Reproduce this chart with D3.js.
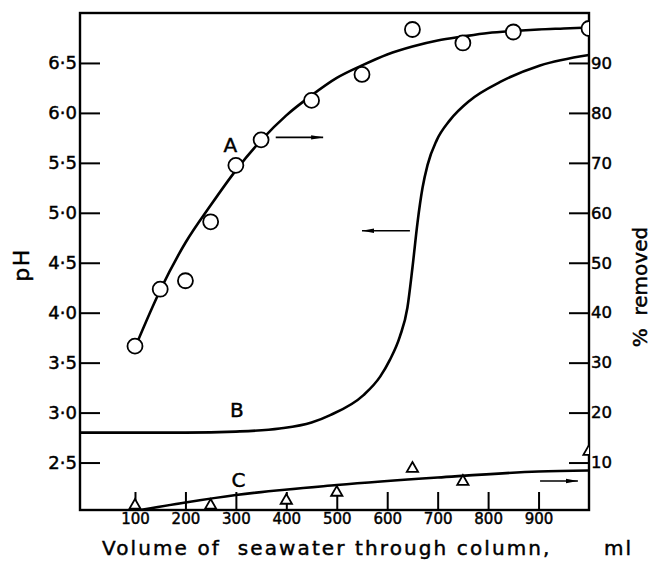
<!DOCTYPE html>
<html>
<head>
<meta charset="utf-8">
<script src="https://cdn.jsdelivr.net/npm/d3@7"></script>
<style>
  body { margin: 0; background: #fff; }
  svg { display: block; font-family: "DejaVu Sans", sans-serif; }
  svg text { stroke: #000; stroke-width: 0.45px; }
</style>
</head>
<body>
<svg id="chart" width="651" height="562"></svg>
<script>
// A: % removed (right axis), smooth line and observed circles
const volA = [100, 150, 200, 250, 300, 350, 400, 450, 500, 550, 600, 650, 700, 750, 800, 850, 900, 950, 1000];
const pctA = [33, 44.5, 54, 61.5, 68.5, 74.5, 79.5, 83.5, 87, 89.5, 91.7, 93.3, 94.5, 95.3, 96, 96.4, 96.7, 96.9, 97.1];
const volAObs = [100, 150, 200, 250, 300, 350, 450, 550, 650, 750, 850, 1000];
const pctAObs = [33.3, 44.7, 46.4, 58.2, 69.5, 74.6, 82.5, 87.7, 96.7, 94, 96.2, 96.9];

// B: pH of effluent (left axis)
const volB = [-9, 100, 200, 300, 387, 450, 487, 553, 586, 605, 625, 640, 650, 660, 670, 680, 698, 724, 764, 824, 903, 1000];
const phB = [2.8, 2.8, 2.8, 2.81, 2.84, 2.9, 2.975, 3.175, 3.36, 3.525, 3.76, 4.05, 4.45, 4.9, 5.25, 5.48, 5.725, 5.925, 6.125, 6.31, 6.475, 6.58];

// C: % removed (right axis), line and observed triangles
const volC = [100, 200, 300, 500, 700, 900, 1000];
const pctC = [0.3, 2.0, 3.5, 5.5, 7.0, 8.2, 8.4];
const volCObs = [100, 250, 400, 500, 650, 750, 1000];
const pctCObs = [1.4, 1.4, 2.4, 4, 8.8, 6.2, 12.2];

const volTicks = [100, 200, 300, 400, 500, 600, 700, 800, 900];
const phTicks = [2.5, 3.0, 3.5, 4.0, 4.5, 5.0, 5.5, 6.0, 6.5];
const pctTicks = [10, 20, 30, 40, 50, 60, 70, 80, 90];

const svg = d3.select("#chart");
const m = { left: 80, right: 589, top: 13, bottom: 510 };

const x = d3.scaleLinear().domain([-9, 1000]).range([m.left, m.right]);
const yPh = d3.scaleLinear().domain([2.025, 7.0]).range([m.bottom, m.top]);
const yPct = d3.scaleLinear().domain([0.5, 100]).range([m.bottom, m.top]);

const defs = svg.append("defs");
defs.append("clipPath")
    .attr("id", "plot-clip")
  .append("rect")
    .attr("x", m.left).attr("y", m.top)
    .attr("width", m.right - m.left).attr("height", m.bottom - m.top);

defs.append("marker")
    .attr("id", "head")
    .attr("viewBox", "0 -3 12 6")
    .attr("refX", 12).attr("refY", 0)
    .attr("markerWidth", 12).attr("markerHeight", 6)
    .attr("markerUnits", "userSpaceOnUse")
    .attr("orient", "auto")
  .append("path")
    .attr("d", "M0,-2.2L12,0L0,2.2Z")
    .attr("fill", "#000");

// axes, ticks pointing into the plot
const fmtPh = d => d3.format(".1f")(d).replace(".", "·");

const gLeft = svg.append("g")
    .attr("transform", `translate(${m.left},0)`)
    .call(d3.axisLeft(yPh).tickValues(phTicks).tickFormat(fmtPh).tickSizeInner(-20).tickSizeOuter(0).tickPadding(3));

const gRight = svg.append("g")
    .attr("transform", `translate(${m.right},0)`)
    .call(d3.axisRight(yPct).tickValues(pctTicks).tickSizeInner(-20).tickSizeOuter(0).tickPadding(2));

const gBottom = svg.append("g")
    .attr("transform", `translate(0,${m.bottom})`)
    .call(d3.axisBottom(x).tickValues(volTicks).tickSizeInner(-18).tickSizeOuter(0).tickPadding(3));

[gLeft, gRight, gBottom].forEach(g => {
  g.select(".domain").remove();
  g.selectAll(".tick line").attr("stroke", "#000").attr("stroke-width", 2);
  g.selectAll(".tick text").attr("fill", "#000").attr("font-family", "DejaVu Sans");
});
gLeft.selectAll(".tick text").attr("font-size", 18);
gRight.selectAll(".tick text").attr("font-size", 16.5);
gBottom.selectAll(".tick text").attr("font-size", 15);

// frame
svg.append("rect")
    .attr("x", m.left).attr("y", m.top)
    .attr("width", m.right - m.left).attr("height", m.bottom - m.top)
    .attr("fill", "none")
    .attr("stroke", "#000")
    .attr("stroke-width", 2.4);

const plot = svg.append("g").attr("clip-path", "url(#plot-clip)");

const lineA = d3.line().x(d => x(d[0])).y(d => yPct(d[1])).curve(d3.curveMonotoneX);
const lineB = d3.line().x(d => x(d[0])).y(d => yPh(d[1])).curve(d3.curveMonotoneX);

plot.append("path")
    .datum(d3.zip(volA, pctA))
    .attr("d", lineA)
    .attr("fill", "none").attr("stroke", "#000").attr("stroke-width", 2.6);

plot.append("path")
    .datum(d3.zip(volB, phB))
    .attr("d", lineB)
    .attr("fill", "none").attr("stroke", "#000").attr("stroke-width", 2.6);

plot.append("path")
    .datum(d3.zip(volC, pctC))
    .attr("d", lineA)
    .attr("fill", "none").attr("stroke", "#000").attr("stroke-width", 2.6);

plot.selectAll("circle.obs")
    .data(d3.zip(volAObs, pctAObs))
  .enter().append("circle")
    .attr("class", "obs")
    .attr("cx", d => x(d[0]))
    .attr("cy", d => yPct(d[1]))
    .attr("r", 7.5)
    .attr("fill", "#fff").attr("stroke", "#000").attr("stroke-width", 1.8);

plot.selectAll("path.tri")
    .data(d3.zip(volCObs, pctCObs))
  .enter().append("path")
    .attr("class", "tri")
    .attr("transform", d => `translate(${x(d[0])},${yPct(d[1])})`)
    .attr("d", d3.symbol(d3.symbolTriangle, 55))
    .attr("fill", "#fff").attr("stroke", "#000").attr("stroke-width", 1.8);

// curve letters and arrows showing which axis each curve uses
const letters = [
  { t: "A", vol: 289, y: yPh(5.61) },
  { t: "B", vol: 302, y: yPh(2.955) },
  { t: "C", vol: 305, y: yPct(5.1) }
];
svg.selectAll("text.lab")
    .data(letters)
  .enter().append("text")
    .attr("class", "lab")
    .attr("x", d => x(d.vol))
    .attr("y", d => d.y)
    .attr("text-anchor", "middle")
    .attr("font-size", 20)
    .text(d => d.t);

const arrows = [
  { from: 379, to: 473, y: yPh(5.755) },
  { from: 645, to: 550, y: yPh(4.82) },
  { from: 903, to: 978, y: yPct(6.3) }
];
svg.selectAll("line.arrow")
    .data(arrows)
  .enter().append("line")
    .attr("class", "arrow")
    .attr("x1", d => x(d.from)).attr("x2", d => x(d.to))
    .attr("y1", d => d.y).attr("y2", d => d.y)
    .attr("stroke", "#000").attr("stroke-width", 1.6)
    .attr("marker-end", "url(#head)");

// axis titles
svg.append("text")
    .attr("transform", "translate(29,265) rotate(-90)")
    .attr("text-anchor", "middle")
    .attr("font-size", 22)
    .attr("letter-spacing", 1.5)
    .text("pH");

svg.append("text")
    .attr("transform", "translate(647,287) rotate(-90)")
    .attr("text-anchor", "middle")
    .attr("font-size", 20)
    .style("white-space", "pre")
    .text("%  removed");

svg.append("text")
    .attr("x", 102).attr("y", 555)
    .attr("font-size", 20)
    .attr("letter-spacing", 2.1)
    .style("white-space", "pre")
    .text("Volume of  seawater through column,");

svg.append("text")
    .attr("x", 604).attr("y", 555)
    .attr("font-size", 20)
    .attr("letter-spacing", 2.1)
    .text("ml");
</script>
</body>
</html>
